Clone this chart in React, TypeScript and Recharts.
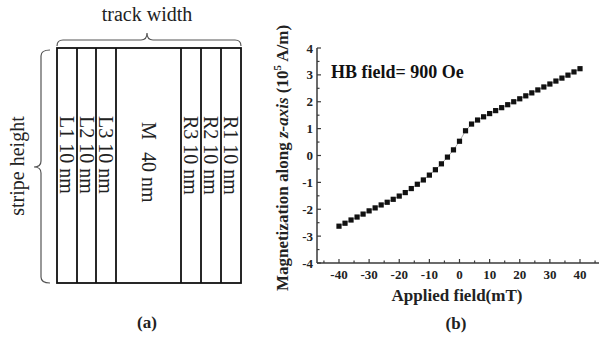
import React from 'react';
import { ScatterChart, Scatter, XAxis, YAxis } from 'recharts';

// ---- Panel (b) data ----
const appliedField = [-40, -38, -36, -34, -32, -30, -28, -26, -24, -22, -20, -18, -16, -14, -12, -10, -8, -6, -4, -2, 0, 2, 4, 6, 8, 10, 12, 14, 16, 18, 20, 22, 24, 26, 28, 30, 32, 34, 36, 38, 40];
const magnetization = [-2.63, -2.52, -2.4, -2.29, -2.18, -2.06, -1.95, -1.84, -1.74, -1.63, -1.51, -1.38, -1.23, -1.07, -0.91, -0.73, -0.53, -0.31, -0.06, 0.21, 0.53, 0.92, 1.17, 1.32, 1.44, 1.56, 1.67, 1.78, 1.89, 2.0, 2.11, 2.22, 2.33, 2.44, 2.55, 2.66, 2.77, 2.88, 2.99, 3.11, 3.23];
const xTicks = [-45, -40, -35, -30, -25, -20, -15, -10, -5, 0, 5, 10, 15, 20, 25, 30, 35, 40, 45];
const xLabelTicks = [-40, -30, -20, -10, 0, 10, 20, 30, 40];
const yTicks = [-4, -3.5, -3, -2.5, -2, -1.5, -1, -0.5, 0, 0.5, 1, 1.5, 2, 2.5, 3, 3.5, 4];
const yLabelTicks = [-4, -3, -2, -1, 0, 1, 2, 3, 4];

// ---- Panel (a) labels ----
const stripeLabels = ['L1 10 nm', 'L2 10 nm', 'L3 10 nm', 'R3 10 nm', 'R2 10 nm', 'R1 10 nm'];
const middleLabel = ['M', '40 nm'];

const data = appliedField.map((x, i) => ({ x, y: magnetization[i] }));

const SERIF = "'Liberation Serif', 'Times New Roman', serif";
const AXIS = '#3a3a3a';
const X_MARGIN = 6;
const Y_MARGIN = 4;

const XTick = (props: any) => {
  const { x, y, payload } = props;
  const axisY = y - X_MARGIN;
  const v = payload.value;
  const major = xLabelTicks.includes(v);
  return (
    <g>
      <line x1={x} x2={x} y1={axisY} y2={axisY - (major ? 4 : 2.5)} stroke={AXIS} strokeWidth={1.2} />
      {major && (
        <text x={x} y={axisY + 15.5} textAnchor="middle" fontFamily={SERIF} fontWeight="bold" fontSize={13} fill="#222">
          {v}
        </text>
      )}
    </g>
  );
};

const YTick = (props: any) => {
  const { x, y, payload } = props;
  const axisX = x + Y_MARGIN;
  const v = payload.value;
  const major = yLabelTicks.includes(v);
  return (
    <g>
      <line x1={axisX} x2={axisX + (major ? 4 : 2.5)} y1={y} y2={y} stroke={AXIS} strokeWidth={1.2} />
      {major && (
        <text x={x} y={y} dy="0.35em" textAnchor="end" fontFamily={SERIF} fontWeight="bold" fontSize={13} fill="#222">
          {v}
        </text>
      )}
    </g>
  );
};

const Square = (props: any) => {
  const { cx, cy } = props;
  if (cx == null || cy == null) return null;
  return <rect x={cx - 2.6} y={cy - 2.6} width={5.2} height={5.2} fill="#111" />;
};

const stripeCenters = [67, 86.5, 106, 191, 211, 231];

const PanelA = () => (
  <svg width={300} height={339} style={{ position: 'absolute', left: 0, top: 0 }}>
    <text x={147} y={21} textAnchor="middle" fontFamily={SERIF} fontSize={20} fill="#222">track width</text>
    <path d="M57,46 Q57,40 63,40 L141,40 Q147,40 147,33 Q147,40 153,40 L235,40 Q241,40 241,46" fill="none" stroke="#555" strokeWidth={1.2} />
    <path d="M50,50 Q41,50 41,56 L41,161 Q41,167 34,167 Q41,167 41,173 L41,277 Q41,283 50,283" fill="none" stroke="#555" strokeWidth={1.2} />
    <text transform="translate(24,166) rotate(-90)" textAnchor="middle" fontFamily={SERIF} fontSize={20} fill="#222">stripe height</text>
    <rect x={57} y={48} width={184} height={235} fill="none" stroke="#111" strokeWidth={1.8} />
    {[77, 96, 116, 181, 201, 221].map((lx) => (
      <line key={lx} x1={lx} x2={lx} y1={48} y2={283} stroke="#111" strokeWidth={1.8} />
    ))}
    {stripeLabels.map((t, i) => (
      <text key={t + i} transform={`translate(${stripeCenters[i]},116) rotate(90)`} dy="0.33em" textAnchor="start" fontFamily={SERIF} fontSize={20} fill="#222">{t}</text>
    ))}
    <text transform="translate(148.5,122) rotate(90)" dy="0.33em" textAnchor="start" fontFamily={SERIF} fontSize={20} fill="#222">{middleLabel[0]}</text>
    <text transform="translate(148.5,152) rotate(90)" dy="0.33em" textAnchor="start" fontFamily={SERIF} fontSize={20} fill="#222">{middleLabel[1]}</text>
    <text x={147} y={328} textAnchor="middle" fontFamily={SERIF} fontWeight="bold" fontSize={17} fill="#222">(a)</text>
    <text transform="translate(288,158) rotate(-90)" textAnchor="middle" fontFamily={SERIF} fontWeight="bold" fontSize={17} fill="#222">
      Magnetization along <tspan fontStyle="italic">z-axis</tspan> (10<tspan fontSize={11} dy={-7}>5</tspan><tspan dy={7}> A/m)</tspan>
    </text>
  </svg>
);

export default function App() {
  return (
    <div style={{ position: 'absolute', left: 0, top: 0, width: 599, height: 339, overflow: 'hidden', background: '#fff' }}>
      <PanelA />
      <div style={{ position: 'absolute', left: 300, top: 0 }}>
        <ScatterChart width={312} height={339} margin={{ top: 48, right: 10, bottom: 0, left: 0 }}>
          <XAxis
            xAxisId="b"
            type="number"
            dataKey="x"
            domain={[-47.3, 47.3]}
            ticks={xTicks}
            interval={0}
            height={76}
            tickSize={0}
            tickMargin={X_MARGIN}
            tickLine={false}
            tick={<XTick />}
            axisLine={{ stroke: AXIS, strokeWidth: 1.5 }}
            allowDataOverflow
          />
          <XAxis
            xAxisId="t"
            orientation="top"
            type="number"
            dataKey="x"
            domain={[-47.3, 47.3]}
            height={0}
            tick={false}
            tickLine={false}
            axisLine={{ stroke: AXIS, strokeWidth: 1.5 }}
          />
          <YAxis
            type="number"
            dataKey="y"
            domain={[-4, 4]}
            ticks={yTicks}
            interval={0}
            width={17}
            tickSize={0}
            tickMargin={Y_MARGIN}
            tickLine={false}
            tick={<YTick />}
            axisLine={{ stroke: AXIS, strokeWidth: 1.5 }}
            allowDataOverflow
          />
          <Scatter
            xAxisId="b"
            data={data}
            isAnimationActive={false}
            line={{ stroke: '#888', strokeWidth: 0.7 }}
            lineType="joint"
            shape={<Square />}
          />
        </ScatterChart>
      </div>
      <svg width={599} height={339} style={{ position: 'absolute', left: 0, top: 0, pointerEvents: 'none' }}>
        <text x={331} y={78} fontFamily={SERIF} fontWeight="bold" fontSize={18} fill="#111">HB field= 900 Oe</text>
        <text x={457} y={301} textAnchor="middle" fontFamily={SERIF} fontWeight="bold" fontSize={17} fill="#222">Applied field(mT)</text>
        <text x={456} y={329} textAnchor="middle" fontFamily={SERIF} fontWeight="bold" fontSize={17} fill="#222">(b)</text>
      </svg>
    </div>
  );
}
